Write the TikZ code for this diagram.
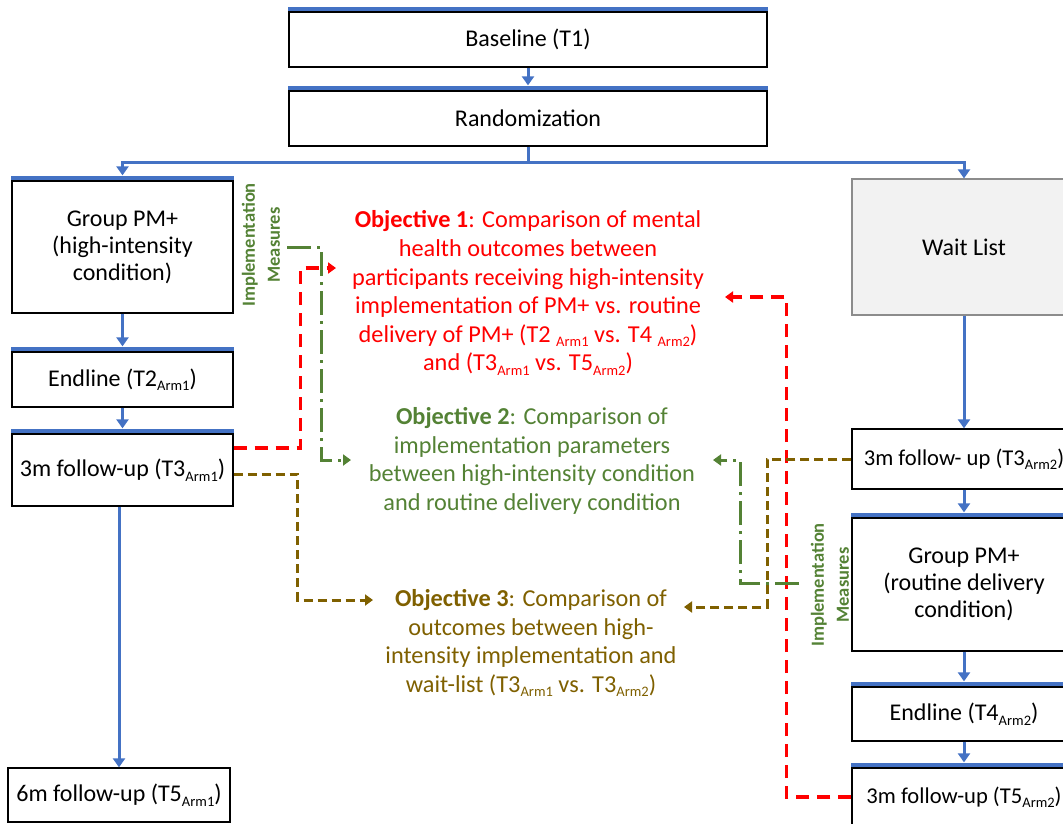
\documentclass[tikz,border=0pt]{standalone}
\usepackage{fontspec}
\setmainfont{Carlito}
\usetikzlibrary{arrows.meta,calc}
\definecolor{bl}{HTML}{4472C4}
\definecolor{rd}{HTML}{FF0000}
\definecolor{gr}{HTML}{548235}
\definecolor{br}{HTML}{7F6000}
\definecolor{wlfill}{HTML}{F2F2F2}
\definecolor{wlline}{HTML}{8C8C8C}
\newcommand\arm[1]{\raisebox{-4.5pt}{\fontsize{14.5}{14.5}\selectfont #1}}
\begin{document}
\begin{tikzpicture}[x=1pt,y=-1pt,
  box/.style={draw=black,line width=1.3pt,rectangle,inner sep=0pt,align=center,
    font=\fontsize{24}{27}\selectfont},
  smallbox/.style={box,font=\fontsize{22.6}{27}\selectfont},
  topbar/.style={draw=bl,line width=4.5pt},
  flow/.style={draw=bl,line width=3pt,-{Triangle[width=12pt,length=9pt]}},
  obj/.style={align=center,inner sep=0pt,font=\fontsize{24.3}{28.6}\selectfont},
  reddash/.style={draw=rd,line width=3.2pt,dash pattern=on 13pt off 8pt,-{Triangle[width=11pt,length=8pt]}},
  browndash/.style={draw=br,line width=3pt,dash pattern=on 9pt off 5pt,-{Triangle[width=11pt,length=8pt]}},
  greendash/.style={draw=gr,line width=3pt,dash pattern=on 24pt off 6pt on 3pt off 6pt,-{Triangle[width=11pt,length=8pt]}},
  implab/.style={text=gr,rotate=90,align=center,inner sep=0pt,font=\fontsize{18.5}{25}\selectfont\bfseries}
]
\useasboundingbox (0,0) rectangle (1063,823);
\clip (0,0) rectangle (1063,823);

% boxes
\node[box,minimum width=478pt,minimum height=55pt] (base) at (528,39.5) {Baseline (T1)};
\node[box,minimum width=478pt,minimum height=55pt] (rand) at (528,118.5) {Randomization};
\node[box,minimum width=221pt,minimum height=132pt] (gl) at (122.5,247) {Group PM+\\(high-intensity\\condition)};
\node[box,draw=wlline,line width=1.2pt,fill=wlfill,minimum width=224pt,minimum height=136pt] (wl) at (964,247) {Wait List};
\node[box,minimum width=221pt,minimum height=55pt] (e1) at (122.5,379.5) {Endline (T2\arm{Arm1})};
\node[box,minimum width=221pt,minimum height=72pt] (f1) at (122.5,470) {3m follow-up (T3\arm{Arm1})};
\node[box,minimum width=222pt,minimum height=54pt] (s1) at (119,795) {6m follow-up (T5\arm{Arm1})};
\node[smallbox,minimum width=224pt,minimum height=60pt] (f2) at (964,459) {3m follow- up (T3\arm{Arm2})};
\node[box,minimum width=224pt,minimum height=133pt] (g2) at (964,584.5) {Group PM+\\(routine delivery\\condition)};
\node[box,minimum width=224pt,minimum height=54pt] (e2) at (964,714) {Endline (T4\arm{Arm2})};
\node[smallbox,minimum width=224pt,minimum height=58pt] (f3) at (964,797) {3m follow-up (T5\arm{Arm2})};

% blue top bars
\foreach \n in {base,rand,gl,e1,f1,g2,e2,f3}{
  \draw[topbar] ([yshift=2.5pt]\n.north west) -- ([yshift=2.5pt]\n.north east);
}

% objectives
\node[obj,text=rd] (o1) at (528,293) {\textbf{Objective 1}: Comparison of mental\\
health outcomes between\\
participants receiving high-intensity\\
implementation of PM+ vs. routine\\
delivery of PM+ (T2 \arm{Arm1} vs. T4 \arm{Arm2})\\
and (T3\arm{Arm1} vs. T5\arm{Arm2})};
\node[obj,text=gr] (o2) at (532,461) {\textbf{Objective 2}: Comparison of\\
implementation parameters\\
between high-intensity condition\\
and routine delivery condition};
\node[obj,text=br] (o3) at (531,643) {\textbf{Objective 3}: Comparison of\\
outcomes between high-\\
intensity implementation and\\
wait-list (T3\arm{Arm1} vs. T3\arm{Arm2})};

% implementation measures labels
\node[implab] (im1) at (261,245) {Implementation\\Measures};
\node[implab] (im2) at (830,585) {Implementation\\Measures};

% blue flow arrows
\draw[flow] (base.south) -- ([yshift=5pt]rand.north);
\draw[flow] (rand.south) -- (rand.south |- 0,162) -| ([yshift=5pt]gl.north);
\draw[flow] (rand.south) -- (rand.south |- 0,162) -| (wl.north);
\draw[flow] (gl.south) -- ([yshift=5pt]e1.north);
\draw[flow] (e1.south) -- ([yshift=5pt]f1.north);
\draw[flow] (f1.south -| s1.north) -- (s1.north);
\draw[flow] (wl.south) -- (f2.north);
\draw[flow] (f2.south) -- ([yshift=5pt]g2.north);
\draw[flow] (g2.south) -- ([yshift=5pt]e2.north);
\draw[flow] (e2.south) -- ([yshift=5pt]f3.north);

% arrow end points
\coordinate (o1a) at (336,268);
\coordinate (o1b) at (725,297);
\coordinate (o2a) at (351,460);
\coordinate (o2b) at (713,460);
\coordinate (o3a) at (373,600);
\coordinate (o3b) at (684,607);
\coordinate (m1) at (287,247);
\coordinate (m2) at (799,583);

% red dashed
\draw[reddash] (f1.east |- 0,448) -- ++(67,0) |- (o1a);
\draw[reddash] (f3.west) -- ++(-65,0) |- (o1b);
% brown dashed
\draw[browndash] (f1.east |- 0,474) -- ++(64,0) |- (o3a);
\draw[browndash] (f2.west) -- ++(-84,0) |- (o3b);
% green dash-dot
\draw[greendash] (m1) -- ++(34,0) |- (o2a);
\draw[greendash] (m2) -- ++(-59,0) |- (o2b);
\end{tikzpicture}
\end{document}
